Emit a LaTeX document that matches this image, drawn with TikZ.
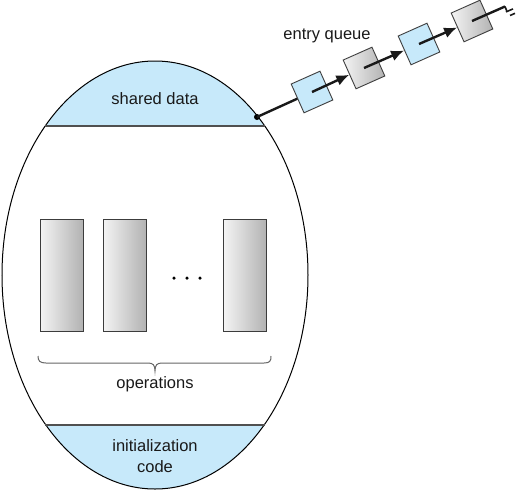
\documentclass[tikz,border=0pt]{standalone}
\usepackage{fontspec}
\setmainfont{Liberation Sans}
\usetikzlibrary{arrows.meta,shapes.geometric,calc}
\definecolor{lblue}{RGB}{199,233,250}
\definecolor{edge}{RGB}{60,60,60}
\definecolor{glight}{RGB}{244,244,244}
\definecolor{gdark}{RGB}{178,178,178}
\tikzset{
  lbl/.style={font=\fontsize{16.5}{21}\selectfont, text=black!90, align=center, inner sep=0},
  opbox/.style={draw=edge, line width=0.9pt, left color=glight, right color=gdark, minimum width=43pt, minimum height=112pt, inner sep=0},
  qblue/.style={draw=edge, line width=0.9pt, fill=lblue, minimum size=31.5pt, inner sep=0, rotate=24},
  qgray/.style={draw=edge, line width=0.9pt, left color=glight, right color=gdark, minimum size=31.5pt, inner sep=0, rotate=24},
  qlink/.style={line width=2.4pt, black!90},
  qarrow/.style={qlink, -{Latex[length=13pt,width=11pt]}},
  divider/.style={line width=2pt, edge!90},
}
\begin{document}
\begin{tikzpicture}[x=1pt,y=-1pt]
\useasboundingbox (0,0) rectangle (517,491);
% monitor body
\begin{scope}
  \clip (155,275) ellipse [x radius=153, y radius=214];
  \fill[lblue] (0,0) rectangle (320,126);
  \fill[lblue] (0,425) rectangle (320,491);
\end{scope}
\node[ellipse, draw=black, line width=1pt, minimum width=306pt, minimum height=428pt, inner sep=0] (mon) at (155,275) {};
\coordinate (tl) at (45,126);
\coordinate (tr) at (265,126);
\coordinate (bl) at (45,425);
\coordinate (br) at (265,425);
\draw[divider] (tl) -- (tr);
\draw[divider] (bl) -- (br);
\node[lbl] (shared) at (155,99) {shared data};
\node[lbl] (init) at (155,456) {initialization\\code};
% operations
\node[opbox] (op1) at (61.5,275) {};
\node[opbox] (op2) at (124.5,275) {};
\node[opbox] (op3) at (245,275) {};
\node[circle, fill=black, inner sep=0, minimum size=3.5pt] (d1) at (174,278) {};
\node[circle, fill=black, inner sep=0, minimum size=3.5pt] (d2) at (187,278) {};
\node[circle, fill=black, inner sep=0, minimum size=3.5pt] (d3) at (200,278) {};
\draw[gray!80!black, line width=1pt] (38,356) .. controls (38,361) and (40,363) .. (46,363) -- (148,363) .. controls (153,363) and (155,365) .. (155,371)
  .. controls (155,365) and (157,363) .. (162,363) -- (264,363) .. controls (270,363) and (271,361) .. (271,356);
\node[lbl] (ops) at (155,384) {operations};
% entry queue
\node[lbl] (eq) at (327,36) {entry queue};
\node[circle, fill=black, inner sep=0, minimum size=6pt] (dot) at (257,117) {};
\node[qblue] (q1) at (312,92) {};
\node[qgray] (q2) at (364,68) {};
\node[qblue] (q3) at (419,44) {};
\node[qgray] (q4) at (472,21) {};
\coordinate (g) at (505,6.5);
\draw[qlink] (dot.center) -- (q1);
\draw[qarrow] (q1.center) -- (q2);
\draw[qarrow] (q2.center) -- (q3);
\draw[qarrow] (q3.center) -- (q4);
\draw[qlink] (q4.center) -- (g);
\draw[black!90, line width=1.6pt] (g) -- ++(2,5) coordinate (gs);
\draw[black!90, line width=1.6pt] ($(gs)+(-1,0.4)$) -- ++(7,-3);
\draw[black!90, line width=1.6pt] ($(gs)+(3,4)$) -- ++(5,-2.2);
\end{tikzpicture}
\end{document}
